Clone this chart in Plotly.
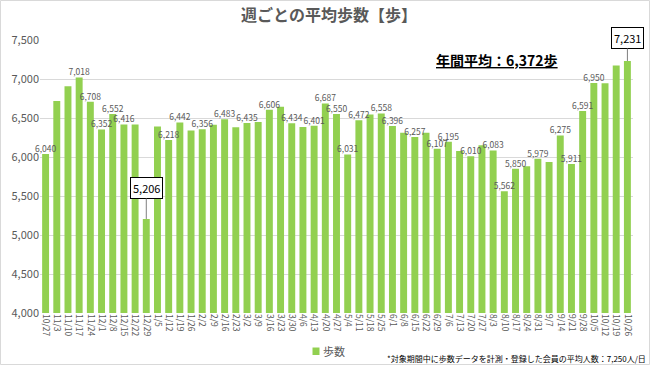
import plotly.graph_objects as go

weeks = ["10/27", "11/3", "11/10", "11/17", "11/24", "12/1", "12/8", "12/15", "12/22", "12/29",
         "1/5", "1/12", "1/19", "1/26", "2/2", "2/9", "2/16", "2/23", "3/2", "3/9",
         "3/16", "3/23", "3/30", "4/6", "4/13", "4/20", "4/27", "5/4", "5/11", "5/18",
         "5/25", "6/1", "6/8", "6/15", "6/22", "6/29", "7/6", "7/13", "7/20", "7/27",
         "8/3", "8/10", "8/17", "8/24", "8/31", "9/7", "9/14", "9/21", "9/28", "10/5",
         "10/12", "10/19", "10/26"]

steps = [6040, 6718, 6906, 7018, 6708, 6352, 6552, 6416, 6418, 5206,
         6390, 6218, 6442, 6340, 6356, 6415, 6483, 6383, 6435, 6450,
         6606, 6645, 6434, 6385, 6401, 6687, 6550, 6031, 6472, 6545,
         6558, 6396, 6310, 6257, 6310, 6107, 6195, 6077, 6010, 6152,
         6083, 5562, 5850, 5880, 5979, 5935, 6275, 5911, 6591, 6950,
         6945, 7172, 7231]

labeled_weeks = ["10/27", "11/17", "11/24", "12/1", "12/8", "12/15", "1/12", "1/19", "2/2",
                 "2/16", "3/2", "3/16", "3/30", "4/13", "4/20", "4/27", "5/4", "5/11",
                 "5/25", "6/1", "6/15", "6/29", "7/6", "7/20", "8/3", "8/10", "8/17",
                 "8/31", "9/14", "9/21", "9/28", "10/5"]
boxed_weeks = ["12/29", "10/26"]

y_ticks = [4000, 4500, 5000, 5500, 6000, 6500, 7000, 7500]
annual_avg = 6372
members = 7250
series_name = "歩数"

GREEN = "#92D050"
GRAY = "#595959"
FONT = "Noto Sans CJK JP, Noto Sans, sans-serif"

lab_x = [w for w in weeks if w in labeled_weeks]
lab_y = [v for w, v in zip(weeks, steps) if w in labeled_weeks]
lab_t = [f"{v:,}" for v in lab_y]

fig = go.Figure()
fig.add_trace(go.Bar(
    x=weeks, y=steps, marker_color=GREEN, marker_line_width=0,
    showlegend=False, name=series_name,
))
fig.add_trace(go.Scatter(
    x=lab_x, y=lab_y, text=lab_t, mode="text", textposition="top center",
    textfont=dict(size=8.5, color=GRAY, family=FONT), cliponaxis=False,
    showlegend=False, hoverinfo="skip",
))

L, R, T, B = 40, 17, 40, 52
W, H = 650, 365
pw, ph = W - L - R, H - T - B


def px_x(x):
    return (x - L) / pw


def px_y(y):
    return (H - B - y) / ph


for w, v in zip(weeks, steps):
    if w in boxed_weeks:
        fig.add_annotation(
            x=w, y=v, text=f"{v:,}", showarrow=True, arrowhead=0, arrowwidth=1,
            arrowcolor="#7f7f7f", ax=0, ay=-31 if v < 6000 else -23,
            bordercolor="#000000", borderwidth=1, borderpad=2, bgcolor="white",
            font=dict(size=11, color="#000000", family=FONT),
        )

fig.add_annotation(
    xref="paper", yref="paper", x=px_x(497), y=px_y(60),
    text=f"<u><b>年間平均：{annual_avg:,}歩</b></u>", showarrow=False,
    font=dict(size=14, color="#000000", family=FONT), xanchor="center", yanchor="middle",
)

fig.add_annotation(
    xref="paper", yref="paper", x=px_x(648), y=px_y(358),
    text=f"*対象期間中に歩数データを計測・登録した会員の平均人数：{members:,}人/日",
    showarrow=False, font=dict(size=8, color="#000000", family=FONT),
    xanchor="right", yanchor="middle",
)

# legend (drawn manually to match compact spacing)
fig.add_shape(
    type="rect", xref="paper", yref="paper",
    x0=px_x(312.5), x1=px_x(319.5), y0=px_y(355), y1=px_y(347.5),
    line=dict(width=0), fillcolor=GREEN,
)
fig.add_annotation(
    xref="paper", yref="paper", x=px_x(321), y=px_y(351),
    text=series_name, showarrow=False, xanchor="left", yanchor="middle",
    font=dict(size=11, color=GRAY, family=FONT),
)

fig.add_shape(
    type="rect", xref="paper", yref="paper",
    x0=px_x(0.5), x1=px_x(649.5), y0=px_y(364.5), y1=px_y(0.5),
    line=dict(color="#d9d9d9", width=1), fillcolor="rgba(0,0,0,0)", layer="below",
)

fig.update_layout(
    width=W, height=H,
    margin=dict(l=L, r=R, t=T, b=B, autoexpand=False),
    paper_bgcolor="white", plot_bgcolor="white",
    title=dict(text="<b>週ごとの平均歩数【歩】</b>", x=329 / W, xanchor="center",
               xref="container", y=1 - 15 / H, yanchor="middle",
               font=dict(size=16, color=GRAY, family=FONT)),
    font=dict(family=FONT, color=GRAY),
    bargap=0.38,
    showlegend=False,
    xaxis=dict(type="category", categoryorder="array", categoryarray=weeks,
               range=[-0.5, len(weeks) - 0.5],
               tickangle=90, tickfont=dict(size=8.5, color=GRAY),
               showgrid=False, showline=False, ticks="", automargin=False),
    yaxis=dict(range=[4000, 7500], tickvals=y_ticks,
               ticktext=[f"{t:,}" for t in y_ticks],
               tickfont=dict(size=11, color=GRAY), gridcolor="#d9d9d9", gridwidth=1,
               zeroline=False, showline=False, ticks="", automargin=False),
)

fig.write_html("out.html", config={"displayModeBar": False},
               post_script="document.body.style.margin='0';")
